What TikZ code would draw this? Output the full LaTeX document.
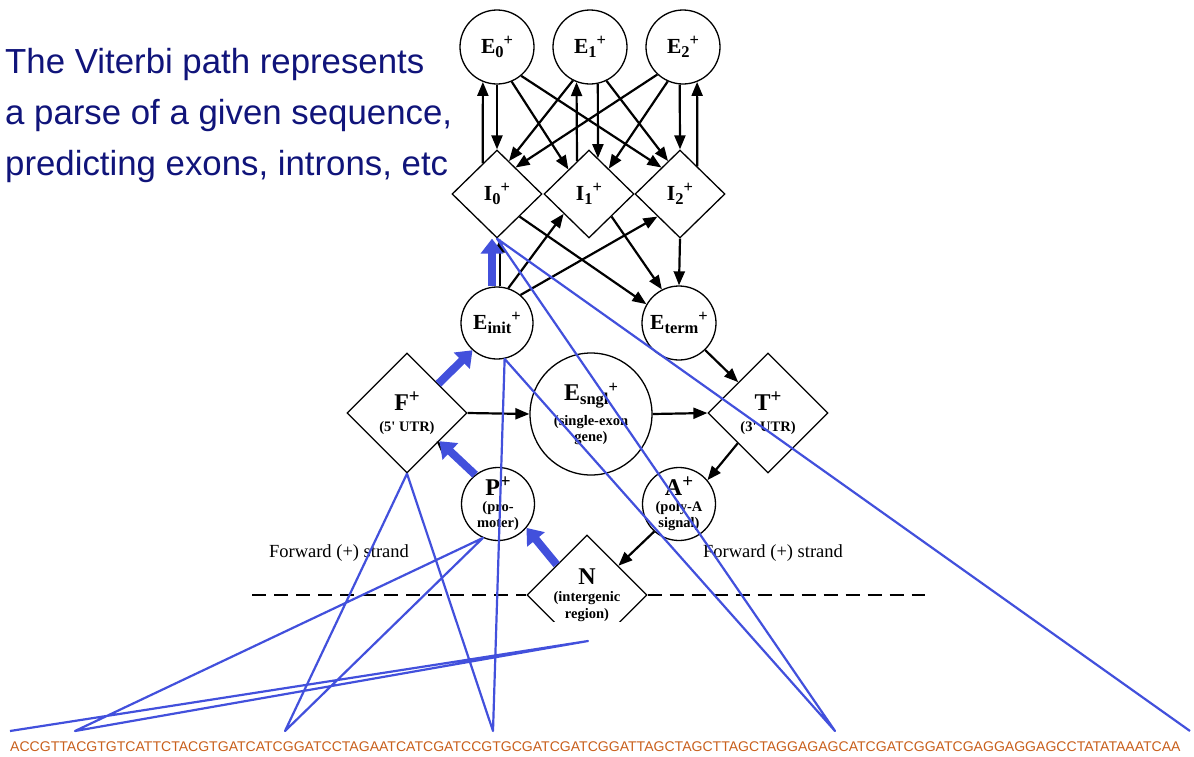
\documentclass[tikz,border=0pt]{standalone}
\usepackage{fontspec}
\setmainfont{Liberation Serif}
\setsansfont{Liberation Sans}
\usetikzlibrary{shapes.geometric,arrows.meta}
\definecolor{pathblue}{RGB}{66,80,220}
\definecolor{headnavy}{RGB}{16,20,122}
\definecolor{seqbrown}{RGB}{200,95,28}
\newcommand{\subsz}[1]{{\fontsize{16.5}{16.5}\selectfont #1}}
\newcommand{\st}[2]{#1\raisebox{-4pt}{\subsz{#2}}\raisebox{7.5pt}{\subsz{+}}}
\newcommand{\stp}[1]{#1\raisebox{8pt}{\fontsize{19}{19}\selectfont +}}
\newcommand{\stbig}[1]{{\fontsize{24}{25}\selectfont #1}}

\begin{document}
\begin{tikzpicture}
[x=1pt, y=-1pt, font=\bfseries\fontsize{21.5}{23}\selectfont]
\tikzstyle{exon}=[circle, draw, line width=1.3pt, inner sep=0pt, minimum size=74pt]
\tikzstyle{intron}=[diamond, draw, line width=1.3pt, inner sep=0pt, minimum width=90pt, minimum height=88pt]
\tikzstyle{region}=[diamond, draw, line width=1.3pt, inner sep=0pt, minimum size=120pt, align=center, font=\bfseries\fontsize{14.5}{17}\selectfont]
\tikzstyle{site}=[circle, draw, line width=1.3pt, inner sep=0pt, minimum size=73pt, align=center, font=\bfseries\fontsize{14.5}{16}\selectfont]
\tikzstyle{trans}=[line width=2.2pt, -{Triangle[length=14pt,width=11pt]}]
\tikzstyle{viterbi}=[pathblue, line width=8pt, -{Triangle[length=15pt,width=22pt]}]
\tikzstyle{parse}=[pathblue, line width=2.2pt, line join=round]
\tikzstyle{heading}=[anchor=base west, inner sep=0pt, text=headnavy, font=\sffamily\fontsize{34.8}{40}\selectfont]
\tikzstyle{strand}=[inner sep=0pt, font=\fontsize{18.5}{20}\selectfont]
\tikzstyle{dna}=[anchor=base west, inner sep=0pt, text=seqbrown, font=\sffamily\fontsize{14.05}{16}\selectfont]

\useasboundingbox (0,0) rectangle (1194,756);

% text
\node[heading] (h1) at (5,73)  {The Viterbi path represents};
\node[heading] (h2) at (5,124) {a parse of a given sequence,};
\node[heading] (h3) at (5,175) {predicting exons, introns, etc};
\node[dna] (seq) at (10,751) {ACCGTTACGTGTCATTCTACGTGATCATCGGATCCTAGAATCATCGATCCGTGCGATCGATCGGATTAGCTAGCTTAGCTAGGAGAGCATCGATCGGATCGAGGAGGAGCCTATATAAATCAA};

% states
\node[exon]   (E0) at (497,47)  {\st{E}{0}};
\node[exon]   (E1) at (590,47)  {\st{E}{1}};
\node[exon]   (E2) at (683,47)  {\st{E}{2}};
\node[intron] (I0) at (497,194) {\st{I}{0}};
\node[intron] (I1) at (589,194) {\st{I}{1}};
\node[intron] (I2) at (680,194) {\st{I}{2}};
\node[exon, minimum size=72pt] (Ei) at (497,323) {\st{E}{init}};
\node[exon]   (Et) at (679,323) {\st{E}{term}};
\node[region] (F)  at (407,413) {\stbig{\stp{F}}\\[4pt](5\textquotesingle{} UTR)};
\node[site, minimum size=122pt] (Es) at (591,414) {\stbig{\st{E}{sngl}}\\[6pt](single-exon\\gene)};
\node[region] (T)  at (768,413) {\stbig{\stp{T}}\\[4pt](3\textquotesingle{} UTR)};
\node[site]   (P)  at (498,504) {\stbig{\stp{P}}\\(pro-\\moter)};
\node[site]   (A)  at (679,504) {\stbig{\stp{A}}\\(poly-A\\signal)};
\begin{scope}
\clip (0,0) rectangle (1194,621);
\node[region] (N)  at (587,595) {\stbig{N}\\(intergenic\\region)};
\end{scope}

\node[strand] (fl) at (339,553) {Forward (+) strand};
\node[strand] (fr) at (773,553) {Forward (+) strand};
\coordinate (dl) at (252,595);
\coordinate (dr) at (925,595);
\draw[line width=1.8pt, dash pattern=on 14pt off 8pt] (dl) -- (N.west);
\draw[line width=1.8pt, dash pattern=on 14pt off 8pt] (N.east) -- (dr);

% exons <-> introns
\draw[trans] (E0.south) -- (I0.north);
\draw[trans] (I0.115) -- (E0.248);
\draw[trans] (E0.293) -- (I1.130);
\draw[trans] (E0.310) -- (I2.125);
\draw[trans] (E1.243) -- (I0.70);
\draw[trans] (E1.282) -- (I1.76);
\draw[trans] (I1.110) -- (E1.249);
\draw[trans] (E1.296) -- (I2.110);
\draw[trans] (E2.227) -- (I0.55);
\draw[trans] (E2.246) -- (I1.52);
\draw[trans] (E2.265) -- (I2.north);
\draw[trans] (I2.58) -- (E2.292);

% init / term
\draw[trans] ([xshift=3pt]Ei.north) -- ([xshift=3pt]I0.south);
\draw[trans] (Ei.72) -- (I1.218);
\draw[trans] (Ei.50) -- (I2.225);
\draw[trans] (I0.315) -- (Et.150);
\draw[trans] (I1.315) -- (Et.117);
\draw[trans] (I2.south) -- (Et.north);

% lower part
\draw[trans] (F.east) -- (Es.west);
\draw[trans] (Es.east) -- (T.west);
\draw[trans] (Et.314) -- (T.134);
\draw[trans] (T.225) -- (A.40);
\draw[trans] (A.228) -- (N.43);
\draw[trans] ([xshift=-3pt]P.128) -- ([xshift=-3pt]F.319);

% viterbi path
\draw[viterbi] (N.135) -- (P.320);
\draw[viterbi] (P.128) -- (F.319);
\draw[viterbi] (F.43) -- (Ei.228);
\draw[viterbi] ([xshift=-5pt]Ei.north) -- ([xshift=-5pt]I0.south);

\coordinate (s0) at (10,731);
\coordinate (s1) at (75,731);
\coordinate (s2) at (285,731);
\coordinate (s3) at (493,731);
\coordinate (s4) at (835,731);
\coordinate (s5) at (1190,731);
\coordinate (nb) at (588,641);
\draw[parse] (s0) -- (nb) -- (s1) -- (P.246) -- (s2) -- (F.south) -- (s3) -- (Ei.282) -- (s4) -- (I0.south) -- (s5);
\end{tikzpicture}
\end{document}
